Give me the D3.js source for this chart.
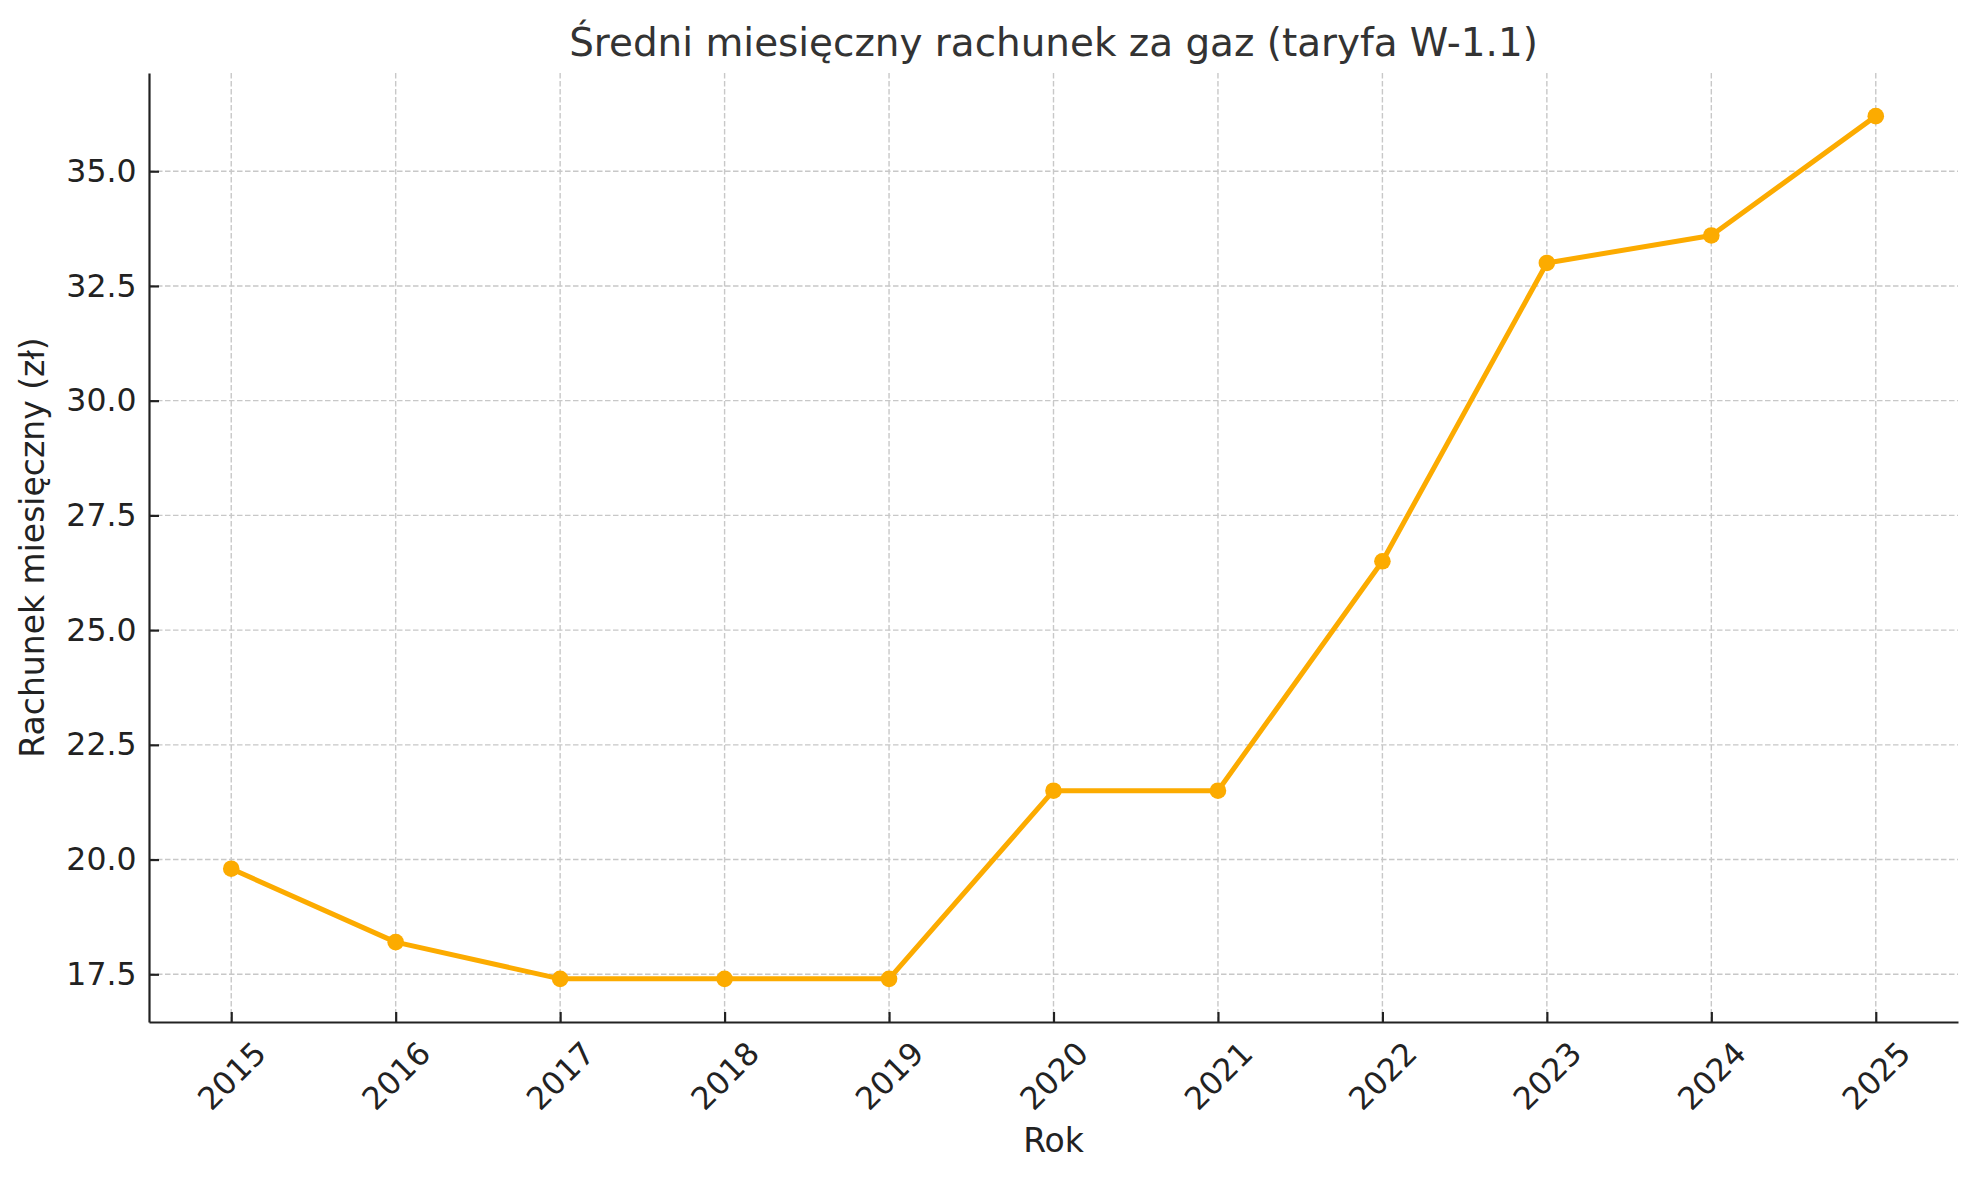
<!DOCTYPE html>
<html>
<head>
<meta charset="utf-8">
<script src="https://cdn.jsdelivr.net/npm/d3@7"></script>
<style>
  body { margin: 0; background: #fff; }
  text { font-family: "DejaVu Sans", sans-serif; }
</style>
</head>
<body>
<div id="chart"></div>
<script>
// dane
const years = [2015, 2016, 2017, 2018, 2019, 2020, 2021, 2022, 2023, 2024, 2025];
const bills = [19.8, 18.2, 17.4, 17.4, 17.4, 21.5, 21.5, 26.5, 33.0, 33.6, 36.2];
const yTicks = [17.5, 20.0, 22.5, 25.0, 27.5, 30.0, 32.5, 35.0];

const title = "Średni miesięczny rachunek za gaz (taryfa W-1.1)";
const xLabel = "Rok";
const yLabel = "Rachunek miesięczny (zł)";

const width = 1979, height = 1180;
const margin = { top: 73, right: 21, bottom: 158, left: 149 };
const innerW = width - margin.left - margin.right;
const innerH = height - margin.top - margin.bottom;

const svg = d3.select("#chart")
  .append("svg")
  .attr("width", width)
  .attr("height", height);

const g = svg.append("g")
  .attr("transform", `translate(${margin.left},${margin.top})`);

// skale (marginesy jak w matplotlib: 0.5 roku i 5% zakresu)
const x = d3.scaleLinear()
  .domain([d3.min(years) - 0.5, d3.max(years) + 0.5])
  .range([0, innerW]);

const yMin = d3.min(bills), yMax = d3.max(bills);
const pad = (yMax - yMin) * 0.05;
const y = d3.scaleLinear()
  .domain([yMin - pad, yMax + pad])
  .range([innerH, 0]);

// siatka
const grid = g.append("g")
  .attr("stroke", "#c8c8c8")
  .attr("stroke-width", 1.4)
  .attr("stroke-dasharray", "5.5,2.5");

grid.selectAll("line.v")
  .data(years)
  .join("line")
  .attr("class", "v")
  .attr("x1", d => x(d)).attr("x2", d => x(d))
  .attr("y1", 0).attr("y2", innerH);

grid.selectAll("line.h")
  .data(yTicks)
  .join("line")
  .attr("class", "h")
  .attr("x1", 0).attr("x2", innerW)
  .attr("y1", d => y(d)).attr("y2", d => y(d));

// osie
const xAxis = g.append("g")
  .attr("transform", `translate(0,${innerH})`)
  .call(d3.axisBottom(x).tickValues(years).tickFormat(d3.format("d"))
    .tickSizeInner(-10).tickSizeOuter(0).tickPadding(0));

xAxis.select(".domain").attr("stroke", "#222").attr("stroke-width", 2.2);
xAxis.selectAll(".tick line").attr("stroke", "#222").attr("stroke-width", 2.2);
xAxis.selectAll(".tick text")
  .attr("fill", "#222")
  .style("font-size", "31.5px")
  .attr("text-anchor", "middle")
  .attr("dominant-baseline", "central")
  .attr("y", 0)
  .attr("dy", 0)
  .attr("transform", "translate(0,54) rotate(-45)");

const yAxis = g.append("g")
  .call(d3.axisLeft(y).tickValues(yTicks).tickFormat(d3.format(".1f"))
    .tickSizeInner(-10).tickSizeOuter(0).tickPadding(12.5));

yAxis.select(".domain").attr("stroke", "#222").attr("stroke-width", 2.2);
yAxis.selectAll(".tick line").attr("stroke", "#222").attr("stroke-width", 2.2);
yAxis.selectAll(".tick text")
  .attr("fill", "#222")
  .style("font-size", "31.5px");

// linia danych
const points = years.map((yr, i) => ({ year: yr, value: bills[i] }));

g.append("path")
  .datum(points)
  .attr("fill", "none")
  .attr("stroke", "#fcab00")
  .attr("stroke-width", 5)
  .attr("stroke-linejoin", "round")
  .attr("d", d3.line().x(d => x(d.year)).y(d => y(d.value)));

g.selectAll("circle")
  .data(points)
  .join("circle")
  .attr("cx", d => x(d.year))
  .attr("cy", d => y(d.value))
  .attr("r", 8.3)
  .attr("fill", "#fcab00");

// tytuł i etykiety
svg.append("text")
  .attr("x", margin.left + innerW / 2)
  .attr("y", 56)
  .attr("text-anchor", "middle")
  .attr("fill", "#333")
  .style("font-size", "38.9px")
  .text(title);

svg.append("text")
  .attr("x", margin.left + innerW / 2)
  .attr("y", 1152)
  .attr("text-anchor", "middle")
  .attr("fill", "#222")
  .style("font-size", "33px")
  .text(xLabel);

svg.append("text")
  .attr("transform", `translate(44,${margin.top + innerH / 2}) rotate(-90)`)
  .attr("text-anchor", "middle")
  .attr("fill", "#222")
  .style("font-size", "33px")
  .text(yLabel);
</script>
</body>
</html>
